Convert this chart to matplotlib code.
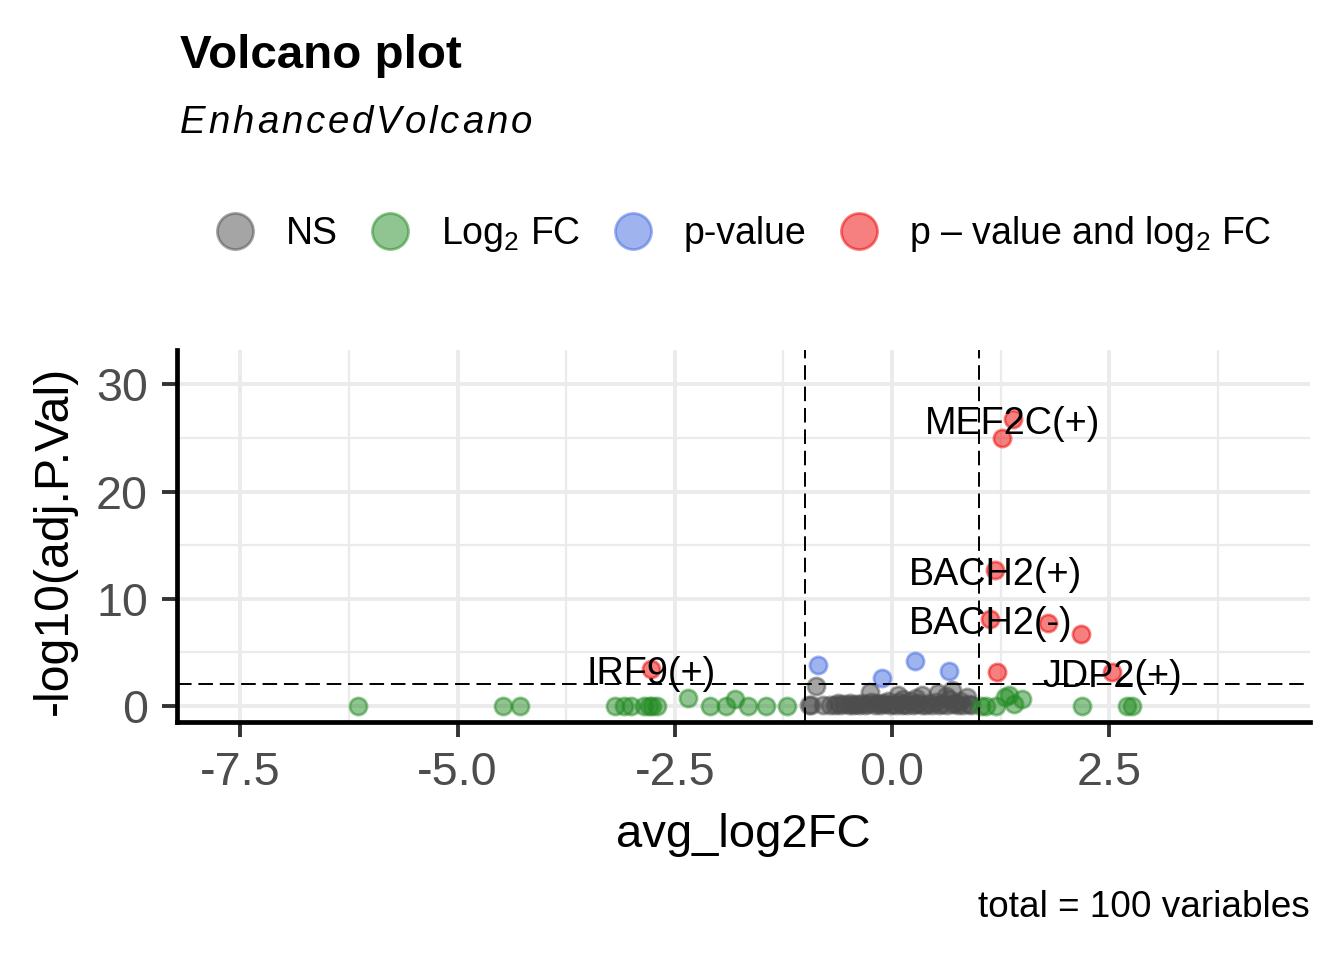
import matplotlib
matplotlib.use("Agg")
import matplotlib.pyplot as plt
from matplotlib.lines import Line2D
import numpy as np

plt.rcParams['font.family'] = ['Liberation Sans', 'DejaVu Sans']
plt.rcParams['mathtext.fontset'] = 'custom'
plt.rcParams['mathtext.rm'] = 'Liberation Sans'
plt.rcParams['mathtext.it'] = 'Liberation Sans:italic'

# ---------------- data ----------------
# NS (grey)
ns_x = [-0.87, -0.25, 0.07, 0.35, 0.53, 0.69, 0.86, 0.62, 0.78, -0.96,
        -0.93, -0.80, -0.72, -0.66, -0.60, -0.55, -0.50, -0.45, -0.42, -0.38,
        -0.35, -0.31, -0.28, -0.24, -0.20, -0.17, -0.14, -0.11, -0.08, -0.05,
        -0.02, 0.01, 0.04, 0.08, 0.11, 0.14, 0.17, 0.21, 0.24, 0.28,
        0.31, 0.35, 0.39, 0.42, 0.46, 0.50, 0.54, 0.58, 0.63, 0.66,
        0.70, 0.73, 0.76, 0.82, 0.88, 0.91, -0.62, -0.48, 0.12, 0.27]
ns_y = [1.9, 1.3, 1.0, 1.0, 1.2, 1.5, 0.8, 0.9, 0.5, 0.1,
        0.05, 0.1, 0.05, 0.1, 0.05, 0.15, 0.1, 0.05, 0.2, 0.1,
        0.3, 0.05, 0.15, 0.4, 0.1, 0.25, 0.05, 0.3, 0.15, 0.5,
        0.05, 0.2, 0.1, 0.35, 0.05, 0.2, 0.1, 0.45, 0.05, 0.15,
        0.3, 0.1, 0.05, 0.25, 0.1, 0.4, 0.05, 0.2, 0.1, 0.6,
        0.15, 0.3, 0.05, 0.1, 0.2, 0.05, 0.3, 0.25, 0.6, 0.7]
# Log2 FC only (green)
fc_x = [-6.15, -4.48, -4.28, -3.19, -3.08, -3.00, -2.85, -2.80, -2.76, -2.70,
        -2.35, -2.09, -1.91, -1.81, -1.66, -1.45, -1.21,
        1.02, 1.08, 1.20, 1.30, 1.35, 1.40, 1.50, 2.19, 2.70, 2.76]
fc_y = [0.0, 0.0, 0.0, 0.0, 0.0, 0.0, 0.0, 0.0, 0.0, 0.0,
        0.7, 0.0, 0.0, 0.6, 0.0, 0.0, 0.0,
        0.0, 0.0, 0.0, 0.8, 1.0, 0.2, 0.6, 0.0, 0.0, 0.0]
# p-value only (blue)
p_x = [-0.85, -0.12, 0.26, 0.66]
p_y = [3.8, 2.6, 4.2, 3.3]
# p-value and log2 FC (red)
sig_x = [1.39, 1.27, 1.19, 1.13, 1.80, 2.17, 1.21, 2.53, -2.77]
sig_y = [26.8, 25.0, 12.7, 8.1, 7.7, 6.7, 3.2, 3.2, 3.4]
sig_lab = ["MEF2C(+)", "", "BACH2(+)", "BACH2(-)", "", "", "", "JDP2(+)", "IRF9(+)"]

fc_cutoff = 1.0
p_cutoff_log = 2.0

col_ns = '#4D4D4D'
col_fc = '#228B22'
col_p = '#4169E1'
col_sig = '#EE0000'

# ---------------- figure ----------------
W, H, DPI = 1344, 960, 200
fig = plt.figure(figsize=(W / DPI, H / DPI), dpi=DPI)
ax = fig.add_axes([177 / W, 1 - 722 / H, (1310 - 177) / W, (722 - 350) / H])

ax.set_xlim(-8.23, 4.81)
ax.set_ylim(-1.5, 33.2)
ax.set_xticks([-7.5, -5.0, -2.5, 0.0, 2.5])
ax.set_xticklabels(['-7.5', '-5.0', '-2.5', '0.0', '2.5'])
ax.set_xticks([-6.25, -3.75, -1.25, 1.25, 3.75], minor=True)
ax.set_yticks([0, 10, 20, 30])
ax.set_yticklabels(['0', '10', '20', '30'])
ax.set_yticks([5, 15, 25], minor=True)

ax.grid(True, which='major', color='#EBEBEB', linewidth=1.4, zorder=0)
ax.grid(True, which='minor', color='#EBEBEB', linewidth=0.8, zorder=0)
ax.set_axisbelow(True)

for s in ['top', 'right']:
    ax.spines[s].set_visible(False)
for s in ['left', 'bottom']:
    ax.spines[s].set_linewidth(1.7)
    ax.spines[s].set_color('black')

ax.tick_params(which='major', length=5.4, width=1.4, color='#333333',
               labelcolor='#4D4D4D', labelsize=16.8, pad=5.0)
ax.tick_params(which='minor', length=0)

def pts(x, y, c):
    ax.scatter(x, y, s=38, facecolor=c, edgecolor=c, linewidths=1.0,
               alpha=0.5, zorder=3)

pts(ns_x, ns_y, col_ns)
pts(fc_x, fc_y, col_fc)
pts(p_x, p_y, col_p)
pts(sig_x, sig_y, col_sig)

ls = (0, (7.5, 3.5))
ax.axvline(-fc_cutoff, color='black', linewidth=0.7, linestyle=ls, zorder=4)
ax.axvline(fc_cutoff, color='black', linewidth=0.7, linestyle=ls, zorder=4)
ax.axhline(p_cutoff_log, color='black', linewidth=0.7, linestyle=ls, zorder=4)

for x, y, lab in zip(sig_x, sig_y, sig_lab):
    if lab:
        ax.annotate(lab, xy=(x, y), xytext=(0, -1.8), textcoords='offset points',
                    ha='center', va='center', fontsize=13.6,
                    color='black', zorder=5)

# axis labels
fig.text(743 / W, 1 - 847 / H, 'avg_log2FC', ha='center', va='baseline',
         fontsize=17)
fig.text(67 / W, 1 - 540 / H, '-log10(adj.P.Val)', ha='center', va='baseline',
         rotation=90, rotation_mode='anchor', fontsize=17.4)

# title
fig.text(180 / W, 1 - 68 / H, 'Volcano plot', ha='left', va='baseline',
         fontsize=17.1, fontweight='bold')

# subtitle with letter spacing
sub = 'EnhancedVolcano'
renderer = fig.canvas.get_renderer()
objs = []
widths = []
for ch in sub:
    t = fig.text(0, 1 - 133 / H, ch, ha='left', va='baseline', fontsize=13.8,
                 fontstyle='italic')
    objs.append(t)
    widths.append(t.get_window_extent(renderer).width)
target = 532 - 180
gap = (target - sum(widths)) / (len(sub) - 1)
xpos = 180.0
for t, w in zip(objs, widths):
    t.set_x(xpos / W)
    xpos += w + gap

# caption
fig.text(1310 / W, 1 - 917 / H, 'total = 100 variables', ha='right',
         va='baseline', fontsize=13.3)

# legend
def h(c):
    return Line2D([], [], linestyle='none', marker='o', markersize=13,
                  markerfacecolor=c, markeredgecolor=c, markeredgewidth=1.0,
                  alpha=0.5)

handles = [h(col_ns), h(col_fc), h(col_p), h(col_sig)]
labels = ['NS', 'Log$_2$ FC', 'p-value', 'p \u2013 value and log$_2$ FC']
fig.legend(handles, labels, loc='center', bbox_to_anchor=(744 / W, 1 - 234 / H),
           ncol=4, frameon=False, fontsize=13.5, handlelength=1.0,
           handletextpad=0.85, columnspacing=0.9, borderaxespad=0)

fig.savefig('out.png', dpi=DPI)
